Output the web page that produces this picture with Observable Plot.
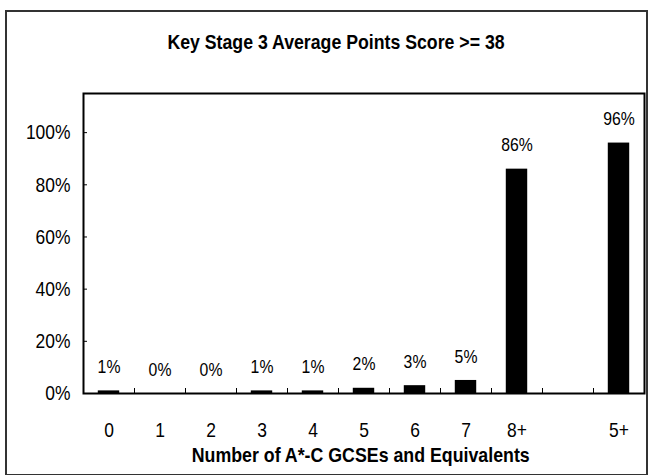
<!DOCTYPE html>
<html>
<head>
<meta charset="utf-8">
<script src="https://cdn.jsdelivr.net/npm/d3@7"></script>
<script src="https://cdn.jsdelivr.net/npm/@observablehq/plot@0.6"></script>
<style>
  html, body { margin: 0; padding: 0; background: #fff; }
  #wrap { position: relative; width: 650px; height: 475px; overflow: hidden;
          font-family: "Liberation Sans", Arial, sans-serif; }
  #border { position: absolute; left: 5px; top: 10px; width: 643px; height: 466px;
            border: 2px solid #333; box-sizing: border-box; }
  .ttl { position: absolute; font-weight: bold; font-size: 21px; color: #000;
         white-space: nowrap; line-height: 24px; transform-origin: 50% 50%; }
  #chart { position: absolute; left: 0; top: 0; }
</style>
</head>
<body>
<div id="wrap">
  <div id="chart"></div>
  <div id="border"></div>
  <div id="title" class="ttl">Key Stage 3 Average Points Score &gt;= 38</div>
  <div id="xtitle" class="ttl">Number of A*-C GCSEs and Equivalents</div>
</div>
<script>
// Categories (a blank slot separates "8+" from "5+")
const categories = ["0", "1", "2", "3", "4", "5", "6", "7", "8+", "", "5+"];
// Percentage of pupils (null = no bar)
const values = [1, 0, 0, 1, 1, 2, 3, 5, 86, null, 96];
const yTicks = [0, 0.2, 0.4, 0.6, 0.8, 1.0];

const data = categories
  .map((c, i) => ({ i, c, v: values[i] }))
  .filter(d => d.v !== null);

const half = 0.21; // half bar width, in category units
const idx = d3.range(categories.length);
const boundaries = d3.range(categories.length - 1).map(i => i + 0.5);

const font = '"Liberation Sans", Arial, sans-serif';

const chart = Plot.plot({
  width: 650,
  height: 475,
  marginLeft: 83,
  marginRight: 6,
  marginTop: 93,
  marginBottom: 82,
  style: { fontFamily: font, fontSize: "21px", color: "#000", background: "transparent" },
  x: { type: "linear", domain: [-0.5, categories.length - 0.5] },
  y: { domain: [0, 1.15] },
  marks: [
    Plot.rectY(data, {
      x1: d => d.i - half,
      x2: d => d.i + half,
      y1: 0,
      y2: d => d.v / 100,
      fill: "#000"
    }),
    Plot.text(data, {
      x: "i",
      y: d => d.v / 100,
      text: d => d.v + "%",
      dy: -24,
      fontSize: 19,
      fill: "#000"
    }),
    Plot.axisY({
      ticks: yTicks,
      tickFormat: d3.format(".0%"),
      tickSize: -4,
      tickPadding: 17,
      label: null,
      fontSize: 21,
      stroke: "#000"
    }),
    Plot.axisX({
      ticks: boundaries,
      tickSize: -5,
      tickFormat: () => "",
      label: null,
      stroke: "#000"
    }),
    Plot.axisX({
      ticks: idx,
      tickSize: 0,
      tickPadding: 29,
      tickFormat: i => categories[i],
      label: null,
      fontSize: 21
    }),
    Plot.frame({ stroke: "#000", strokeWidth: 2 })
  ]
});

document.getElementById("chart").appendChild(chart);

// Condense the chart text horizontally to mimic the reference's narrow typeface
chart.querySelectorAll("text").forEach(t => {
  const L = t.getComputedTextLength();
  if (L > 0) {
    t.setAttribute("textLength", (L * 0.83).toFixed(2));
    t.setAttribute("lengthAdjust", "spacingAndGlyphs");
  }
});

// Fit the two titles to the reference's text extent (width, centre x, centre y)
function fit(id, width, cx, cy) {
  const el = document.getElementById(id);
  const r = el.getBoundingClientRect();
  const s = width / r.width;
  el.style.left = (cx - r.width / 2) + "px";
  el.style.top = (cy - r.height / 2) + "px";
  el.style.transform = `scaleX(${s.toFixed(3)})`;
}
fit("title", 337, 335.5, 42);
fit("xtitle", 338, 361, 455);
</script>
</body>
</html>
